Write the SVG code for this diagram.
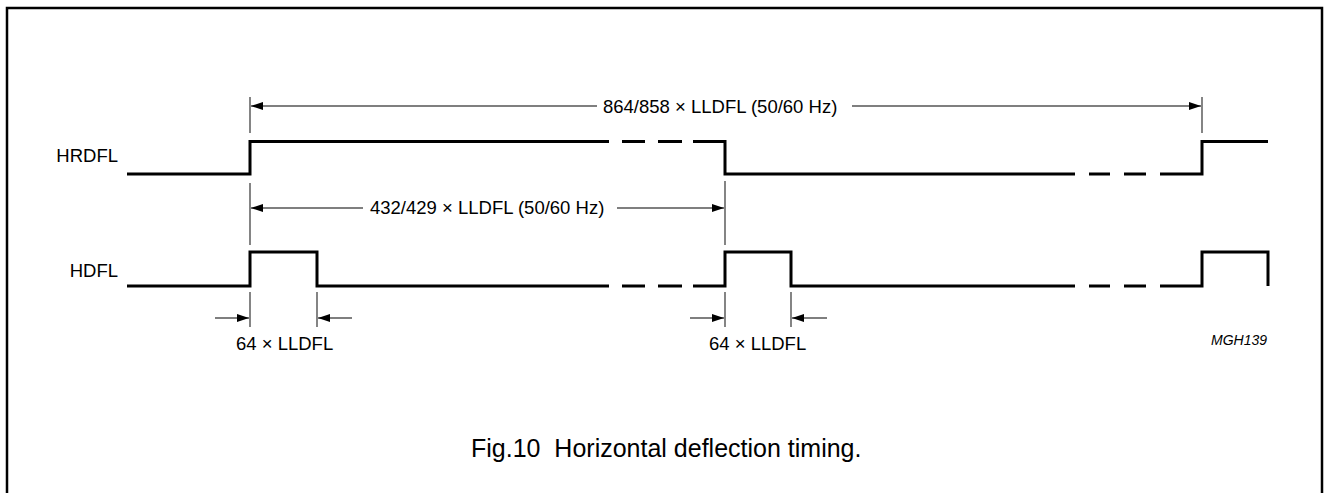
<svg xmlns="http://www.w3.org/2000/svg" width="1325" height="493" viewBox="0 0 1325 493">
<style>
  text { font-family: "Liberation Sans", Arial, sans-serif; fill: #000; }
  .lbl { font-size: 18.5px; }
  .sig { fill: none; stroke: #000; stroke-width: 3; stroke-linejoin: miter; stroke-linecap: butt; }
  .dim { fill: none; stroke: #000; stroke-width: 1.2; }
  .tick { fill: none; stroke: #333; stroke-width: 1.2; }
</style>
<defs>
  <marker id="ah" viewBox="0 0 12 8" refX="12" refY="4" markerWidth="12" markerHeight="8" markerUnits="userSpaceOnUse" orient="auto">
    <path d="M0,0 L12,4 L0,8 Z" fill="#000"/>
  </marker>
</defs>
<rect x="7" y="8" width="1315" height="500" fill="#fff" stroke="#000" stroke-width="2.5"/>

<g id="HRDFL">
  <text class="lbl" x="118" y="162" text-anchor="end">HRDFL</text>
  <polyline class="sig" points="127,174 250,174 250,141.5 609,141.5"/>
  <path class="sig" d="M622,141.5 H645 M658,141.5 H682"/>
  <polyline class="sig" points="693,141.5 725,141.5 725,174 1075,174"/>
  <path class="sig" d="M1089,174 H1110 M1124,174 H1146"/>
  <polyline class="sig" points="1160,174 1202,174 1202,141.5 1268,141.5"/>
</g>

<g id="HDFL">
  <text class="lbl" x="118" y="277" text-anchor="end">HDFL</text>
  <polyline class="sig" points="127,286 250,286 250,252 317,252 317,286 609,286"/>
  <path class="sig" d="M622,286 H645 M658,286 H682"/>
  <polyline class="sig" points="693,286 725,286 725,252 791,252 791,286 1075,286"/>
  <path class="sig" d="M1089,286 H1110 M1124,286 H1146"/>
  <polyline class="sig" points="1160,286 1202,286 1202,252 1268,252 1268,286"/>
</g>

<g id="connectors">
  <!-- top dimension -->
  <line class="tick" x1="250" y1="97" x2="250" y2="133"/>
  <line class="tick" x1="1202" y1="97" x2="1202" y2="133"/>
  <line class="dim" x1="597" y1="106" x2="251" y2="106" marker-end="url(#ah)"/>
  <line class="dim" x1="852" y1="106" x2="1201" y2="106" marker-end="url(#ah)"/>
  <!-- middle dimension -->
  <line class="tick" x1="250" y1="183" x2="250" y2="245"/>
  <line class="tick" x1="725" y1="181" x2="725" y2="245"/>
  <line class="dim" x1="363" y1="208" x2="251" y2="208" marker-end="url(#ah)"/>
  <line class="dim" x1="617" y1="208" x2="724" y2="208" marker-end="url(#ah)"/>
  <!-- bottom dims -->
  <line class="tick" x1="250" y1="292" x2="250" y2="327"/>
  <line class="tick" x1="317" y1="292" x2="317" y2="327"/>
  <line class="dim" x1="215" y1="318" x2="249" y2="318" marker-end="url(#ah)"/>
  <line class="dim" x1="352" y1="318" x2="318" y2="318" marker-end="url(#ah)"/>
  <line class="tick" x1="725" y1="292" x2="725" y2="327"/>
  <line class="tick" x1="791" y1="292" x2="791" y2="327"/>
  <line class="dim" x1="690" y1="318" x2="724" y2="318" marker-end="url(#ah)"/>
  <line class="dim" x1="827" y1="318" x2="792" y2="318" marker-end="url(#ah)"/>
</g>

<g id="labels">
  <text class="lbl" x="603" y="113">864/858 × LLDFL (50/60 Hz)</text>
  <text class="lbl" x="370" y="214">432/429 × LLDFL (50/60 Hz)</text>
  <text class="lbl" x="236" y="350">64 × LLDFL</text>
  <text class="lbl" x="709" y="350">64 × LLDFL</text>
  <text x="1267" y="345" text-anchor="end" font-size="14" font-style="italic">MGH139</text>
  <text x="471" y="457" font-size="25" style="white-space:pre" xml:space="preserve">Fig.10  Horizontal deflection timing.</text>
</g>
</svg>
